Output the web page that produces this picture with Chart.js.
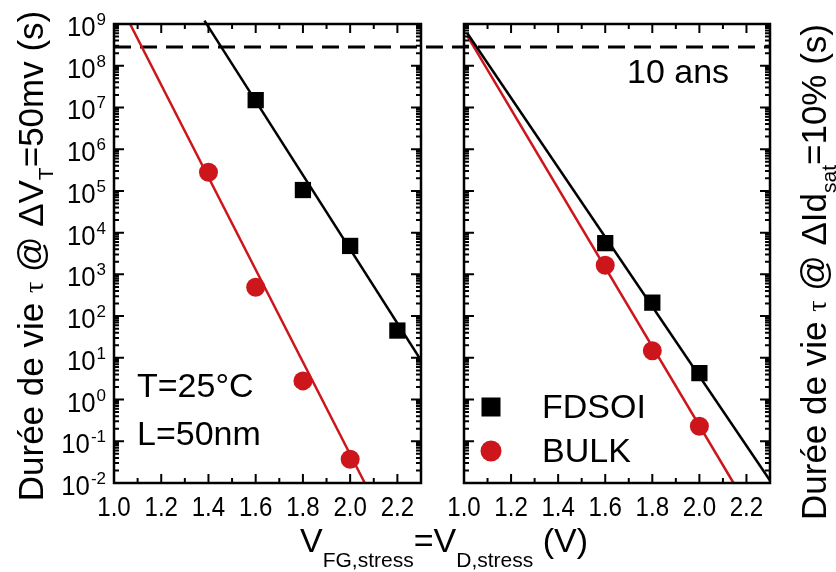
<!DOCTYPE html>
<html>
<head>
<meta charset="utf-8">
<script src="https://cdn.jsdelivr.net/npm/chart.js@4.4.1/dist/chart.umd.min.js"></script>
<style>
  html, body { margin: 0; padding: 0; background: #fff; }
  #wrap { position: relative; width: 836px; height: 572px; }
  canvas { position: absolute; left: 0; top: 0; }
</style>
</head>
<body>
<div id="wrap">
  <canvas id="left" width="836" height="572"></canvas>
  <canvas id="right" width="836" height="572"></canvas>
</div>
<script>
// left panel : lifetime @ dVt = 50mV
const vtFdsoiV = [1.6, 1.8, 2.0, 2.2];
const vtFdsoiLife = [1.5e7, 1.05e5, 4.8e3, 45];
const vtBulkV = [1.4, 1.6, 1.8, 2.0];
const vtBulkLife = [2.8e5, 490, 2.8, 0.037];
const vtFdsoiFitV = [1.383, 2.3];
const vtFdsoiFitLife = [1.2e9, 8.7];
const vtBulkFitV = [1.068, 2.062];
const vtBulkFitLife = [1e9, 0.01];

// right panel : lifetime @ dIdsat = 10%
const idFdsoiV = [1.6, 1.8, 2.0];
const idFdsoiLife = [5.6e3, 210, 4.3];
const idBulkV = [1.6, 1.8, 2.0];
const idBulkLife = [1.66e3, 14.7, 0.23];
const idFdsoiFitV = [1.014, 2.3];
const idFdsoiFitLife = [6e8, 0.0115];
const idBulkFitV = [1.014, 2.145];
const idBulkFitLife = [5.2e8, 0.01];

const tenYears = 2.8e8;   // ligne "10 ans"
const xTickValues = [1.0, 1.2, 1.4, 1.6, 1.8, 2.0, 2.2];
const yTickExponents = [-2, -1, 0, 1, 2, 3, 4, 5, 6, 7, 8, 9];

const RED = '#cc161c';
const SANS = "'Liberation Sans', Arial, sans-serif";

const pts = (xs, ys) => xs.map((x, i) => ({x: x, y: ys[i]}));

// draws a list of [text, font, dy] runs one after the other
function drawRuns(ctx, runs, x, y, center) {
  let w = 0;
  runs.forEach(r => { ctx.font = r[1]; w += ctx.measureText(r[0]).width; });
  let cx = center ? x - w / 2 : x;
  ctx.textAlign = 'left';
  runs.forEach(r => {
    ctx.font = r[1];
    ctx.fillText(r[0], cx, y + (r[2] || 0));
    cx += ctx.measureText(r[0]).width;
  });
}

function framePlugin(cfg) {
  return {
    id: 'frame_' + cfg.name,
    afterDraw(chart) {
      const ctx = chart.ctx;
      const xs = chart.scales.x, ys = chart.scales.y;
      const a = chart.chartArea;
      ctx.save();
      ctx.strokeStyle = '#000';
      ctx.fillStyle = '#000';

      // inward ticks, all four sides
      ctx.lineWidth = 2;
      ctx.beginPath();
      for (let k = 1; k < 13; k++) {
        const px = xs.getPixelForValue(1.0 + k * 0.1);
        const len = k % 2 === 0 ? 9 : 5;
        ctx.moveTo(px, a.bottom); ctx.lineTo(px, a.bottom - len);
        ctx.moveTo(px, a.top); ctx.lineTo(px, a.top + len);
      }
      yTickExponents.forEach(e => {
        for (let m = 1; m <= 9; m++) {
          if (e === 9 && m > 1) break;
          const py = ys.getPixelForValue(m * Math.pow(10, e));
          const len = m === 1 ? 10 : 5;
          ctx.moveTo(a.left, py); ctx.lineTo(a.left + len, py);
          ctx.moveTo(a.right, py); ctx.lineTo(a.right - len, py);
        }
      });
      ctx.stroke();

      ctx.lineWidth = 2.5;
      ctx.strokeRect(a.left, a.top, a.right - a.left, a.bottom - a.top);

      // x tick labels
      ctx.font = '28px ' + SANS;
      ctx.textAlign = 'center';
      ctx.textBaseline = 'alphabetic';
      xTickValues.forEach(v => {
        ctx.save();
        ctx.translate(xs.getPixelForValue(v), 516);
        ctx.scale(0.86, 1);
        ctx.fillText(v.toFixed(1), 0, 0);
        ctx.restore();
      });

      // y tick labels 10^n
      if (cfg.yLabels) {
        yTickExponents.forEach(e => {
          const py = ys.getPixelForValue(Math.pow(10, e));
          ctx.font = '17px ' + SANS;
          const sup = String(e);
          const sw = ctx.measureText(sup).width;
          ctx.textAlign = 'left';
          ctx.fillText(sup, 106 - sw, py + 1);
          ctx.save();
          ctx.font = '28px ' + SANS;
          ctx.textAlign = 'right';
          ctx.translate(106 - sw - 1, py + 12);
          ctx.scale(0.92, 1);
          ctx.fillText('10', 0, 0);
          ctx.restore();
        });
      }

      if (cfg.draw) cfg.draw(ctx, chart);
      ctx.restore();
    }
  };
}

function baseOptions(pad) {
  return {
    responsive: false,
    animation: false,
    devicePixelRatio: 1,
    layout: { padding: pad },
    plugins: { legend: { display: false }, tooltip: { enabled: false } },
    scales: {
      x: { type: 'linear', min: 1.0, max: 2.3, display: false },
      y: { type: 'logarithmic', min: 0.01, max: 1e9, display: false }
    }
  };
}

const lineDs = (data, color, extra) => Object.assign({
  data: data, showLine: true, borderColor: color, borderWidth: 2.5,
  pointRadius: 0, fill: false
}, extra || {});

const squareDs = (label, data) => ({
  label: label, data: data, showLine: false, pointStyle: 'rect',
  pointRadius: 11.5, backgroundColor: '#000', borderColor: '#000', borderWidth: 0
});
const circleDs = (label, data) => ({
  label: label, data: data, showLine: false, pointStyle: 'circle',
  pointRadius: 9.5, backgroundColor: RED, borderColor: RED, borderWidth: 0
});

new Chart(document.getElementById('left'), {
  type: 'scatter',
  data: {
    datasets: [
      squareDs('FDSOI', pts(vtFdsoiV, vtFdsoiLife)),
      circleDs('BULK', pts(vtBulkV, vtBulkLife)),
      lineDs(pts(vtFdsoiFitV, vtFdsoiFitLife), '#000', { clip: {left: 0, top: 6, right: 0, bottom: 0} }),
      lineDs(pts(vtBulkFitV, vtBulkFitLife), RED),
      lineDs(pts([1.0, 2.483], [tenYears, tenYears]), '#000', { borderWidth: 3, borderDash: [17, 9], clip: false })
    ]
  },
  options: baseOptions({ left: 114, right: 415, top: 24, bottom: 89 }),
  plugins: [framePlugin({
    name: 'left', yLabels: true,
    draw(ctx) {
      ctx.fillStyle = '#000';
      ctx.textAlign = 'left';
      ctx.font = '34px ' + SANS;
      ctx.fillText('T=25°C', 137, 397);
      ctx.fillText('L=50nm', 137, 445);

      // x axis title
      drawRuns(ctx, [
        ['V', '34px ' + SANS],
        ['FG,stress', '21px ' + SANS, 15],
        ['=V', '34px ' + SANS],
        ['D,stress', '21px ' + SANS, 15],
        [' (V)', '34px ' + SANS]
      ], 300, 552, false);

      // left y title
      ctx.save();
      ctx.translate(43, 256);
      ctx.rotate(-Math.PI / 2);
      drawRuns(ctx, [
        ['Durée de vie ', '35px ' + SANS],
        ['τ', '28px "Liberation Serif", serif'],
        [' @ ΔV', '35px ' + SANS],
        ['T', '21px ' + SANS, 10],
        ['=50mv (s)', '35px ' + SANS]
      ], 0, 0, true);
      ctx.restore();
    }
  })]
});

new Chart(document.getElementById('right'), {
  type: 'scatter',
  data: {
    datasets: [
      squareDs('FDSOI', pts(idFdsoiV, idFdsoiLife)),
      circleDs('BULK', pts(idBulkV, idBulkLife)),
      lineDs(pts(idFdsoiFitV, idFdsoiFitLife), '#000'),
      lineDs(pts(idBulkFitV, idBulkFitLife), RED),
      lineDs(pts([1.0, 2.3], [tenYears, tenYears]), '#000', { borderWidth: 3, borderDash: [17, 9], borderDashOffset: 12 })
    ]
  },
  options: baseOptions({ left: 464, right: 66, top: 24, bottom: 89 }),
  plugins: [framePlugin({
    name: 'right', yLabels: false,
    draw(ctx, chart) {
      ctx.fillStyle = '#000';
      ctx.textAlign = 'left';
      ctx.font = '34px ' + SANS;
      ctx.fillText('10 ans', 627, 83);

      // legend, styled from the marker datasets
      const ds = chart.data.datasets;
      ctx.fillStyle = ds[0].backgroundColor;
      ctx.fillRect(491 - 9.5, 407 - 9.5, 19, 19);
      ctx.fillStyle = ds[1].backgroundColor;
      ctx.beginPath();
      ctx.arc(491, 451, 10.5, 0, Math.PI * 2);
      ctx.fill();
      ctx.fillStyle = '#000';
      ctx.fillText(ds[0].label, 542, 418);
      ctx.fillText(ds[1].label, 542, 462);

      // right y title
      ctx.save();
      ctx.translate(826, 272);
      ctx.rotate(-Math.PI / 2);
      drawRuns(ctx, [
        ['Durée de vie ', '35px ' + SANS],
        ['τ', '28px "Liberation Serif", serif'],
        [' @ ΔId', '35px ' + SANS],
        ['sat', '21px ' + SANS, 10],
        ['=10% (s)', '35px ' + SANS]
      ], 0, 0, true);
      ctx.restore();
    }
  })]
});
</script>
</body>
</html>
